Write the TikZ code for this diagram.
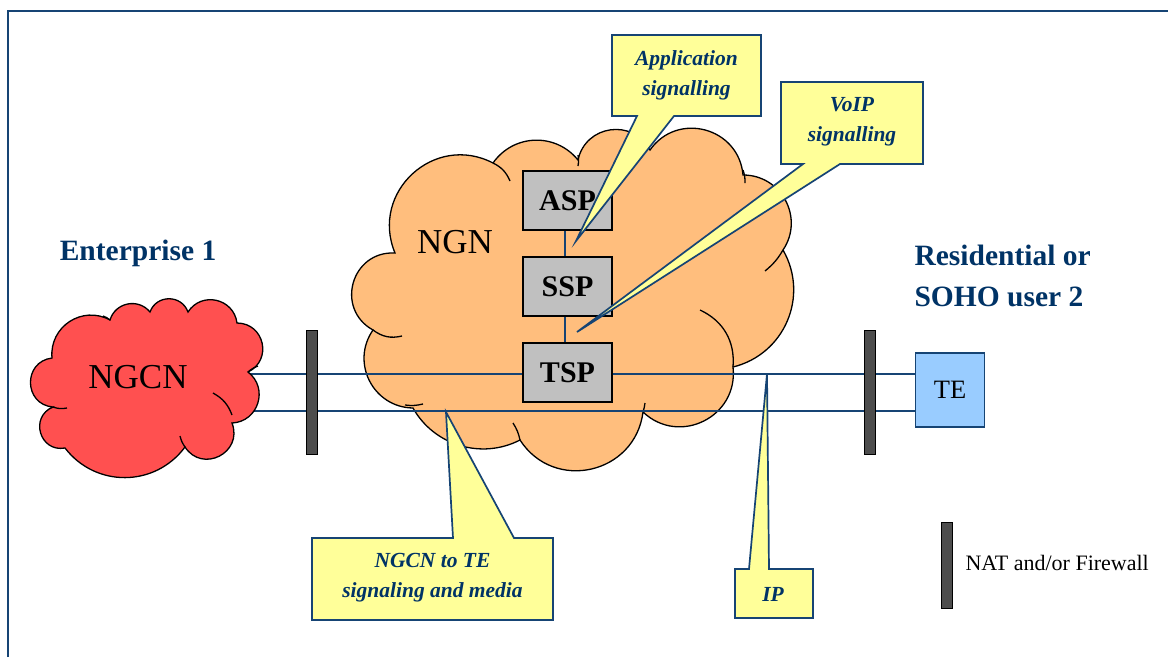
\documentclass[tikz,border=0pt]{standalone}
\usepackage{fontspec}
\setmainfont{Liberation Serif}
\definecolor{navy}{RGB}{0,51,102}
\definecolor{wire}{RGB}{22,68,116}
\definecolor{callfill}{RGB}{255,255,153}
\definecolor{ngnfill}{RGB}{255,190,125}
\definecolor{ngcnfill}{RGB}{255,80,80}
\definecolor{boxgray}{RGB}{192,192,192}
\definecolor{barfill}{RGB}{77,77,77}
\definecolor{tefill}{RGB}{153,204,255}
\begin{document}
\begin{tikzpicture}[x=1pt,y=-1pt,
  % circular-arc puffs; the number is the bulge as a fraction of the chord
  p20/.style={bend left=44,looseness=0.99},
  p25/.style={bend left=53,looseness=1.07},
  p30/.style={bend left=62,looseness=1.16},
  p35/.style={bend left=70,looseness=1.27},
  p40/.style={bend left=77,looseness=1.40},
  p45/.style={bend left=84,looseness=1.54},
  p50/.style={bend left=90,looseness=1.70},
  cloudline/.style={draw=black,line width=1.3pt,line join=miter},
  innerarc/.style={draw=black,line width=1.3pt},
  server/.style={draw=black,line width=1.6pt,fill=boxgray,minimum width=89pt,minimum height=59pt,inner sep=0pt,font=\bfseries\fontsize{30}{30}\selectfont},
  firewall/.style={draw=black,line width=1pt,fill=barfill,minimum width=11pt,minimum height=124pt,inner sep=0pt},
  wireline/.style={draw=wire,line width=1.9pt},
  terminal/.style={draw=wire,line width=1.6pt,fill=tefill,minimum width=69pt,minimum height=74pt,inner sep=0pt,font=\fontsize{26.5}{26.5}\selectfont},
  callout/.style={draw=wire,line width=1.7pt,fill=callfill,line join=miter},
  calltext/.style={text=navy,font=\bfseries\itshape\fontsize{21.5}{30}\selectfont,align=center},
  heading/.style={text=navy,font=\bfseries\fontsize{29.5}{41}\selectfont}]
\useasboundingbox (0,0) rectangle (1168,657);
\fill[white] (0,0) rectangle (1168,657);
% frame
\draw[wire,line width=2.6pt] (8,657) -- (8,11) -- (1168,11);

% NGN cloud
\path[cloudline,fill=ngnfill]
  (395,253) to[p35] (493,163) to[p25] (578,160) to[p35] (650,150)
  to[p35] (743,175) to[p30] (783,250) to[p25] (733,367)
  to[p35] (643,412) to[p35] (520,440) to[p20] (413,408)
  to[p30] (373,330) to[p40] (395,253) -- cycle;
\draw[innerarc] (373,330) to[bend right=25] (402,336);
\draw[innerarc] (493,163) to[bend left=20] (510,181);
\draw[innerarc] (578,155) to[bend left=10] (578,166);
\draw[innerarc] (743,170) to[bend left=10] (745,183);
\draw[innerarc] (783,250) to[bend left=10] (765,271);
\draw[innerarc] (700,310) to[bend left=35] (733,367);
\draw[innerarc] (645,403) to[bend left=5] (643,412);
\draw[innerarc] (513,423) to[bend left=10] (520,440);
\draw[innerarc] (405,405) to[bend right=10] (423,404);
\node[font=\fontsize{35}{35}\selectfont] (ngn) at (455,242) {NGN};

% signalling lines between the networks and the terminal
\coordinate (l1a) at (200,374);
\coordinate (l2a) at (200,411);
\node[terminal] (te) at (950,390) {TE};
\draw[wireline] (l1a) -- (te.west |- l1a);
\draw[wireline] (l2a) -- (te.west |- l2a);

% NGCN cloud
\path[cloudline,fill=ngcnfill]
  (52,358) to[p30] (110,320) to[p30] (150,312) to[p35] (188,312)
  to[p35] (237,323) to[p40] (248,372) to[p35] (232,423)
  to[p45] (185,447) to[p25] (65,448) to[p45] (53,407)
  to[p45] (52,358) -- cycle;
\draw[innerarc] (213,393) to[bend left=20] (232,415);
\draw[innerarc] (248,372) to[bend left=10] (258,366);
\draw[innerarc] (185,447) to[bend left=10] (180,436);
\draw[innerarc] (53,407) to[bend right=15] (67,408);
\draw[innerarc] (110,320) to[bend right=10] (103,316);
\node[font=\fontsize{35}{35}\selectfont] (ngcn) at (138,377) {NGCN};

% NAT / firewall bars
\node[firewall] (fw1) at (311.5,392.5) {};
\node[firewall] (fw2) at (869.5,392.5) {};

% service platforms
\node[server] (asp) at (567.5,200.5) {ASP};
\node[server] (ssp) at (567.5,286.5) {SSP};
\draw[wire,line width=1.6pt] ([xshift=-2.5pt]asp.south) -- ([xshift=-2.5pt]ssp.north);
\node[server] (tsp) at (567.5,372.5) {TSP};
\draw[wire,line width=1.6pt] ([xshift=-2.5pt]ssp.south) -- ([xshift=-2.5pt]tsp.north);

% headings
\node[heading] (ent) at (138,253) {Enterprise 1};
\node[heading,anchor=west,align=left] (res) at (911,276) {Residential or\\SOHO user 2};

% legend
\node[firewall,minimum height=86pt] (legbar) at (946.5,565) {};
\node[anchor=west,font=\fontsize{22}{22}\selectfont] (legtext) at (962,563) {NAT and/or Firewall};

% callouts
\coordinate (apptip) at (576,241);
\coordinate (voiptip) at (577,332);
\coordinate (ngcntip) at (446,412);
\coordinate (iptip) at (767,374);
\path[callout] (612,35) -- (761,35) -- (761,116) -- (674,116) -- (apptip) -- (637,116) -- (612,116) -- cycle;
\node[calltext] (app) at (686.5,75) {Application\\signalling};
\path[callout] (781,82) -- (923,82) -- (923,164) -- (840,164) -- (voiptip) -- (803,164) -- (781,164) -- cycle;
\node[calltext] (voip) at (852,122) {VoIP\\signalling};
\path[callout] (312,538) -- (453,538) -- (ngcntip) -- (514,538) -- (553,538) -- (553,620) -- (312,620) -- cycle;
\node[calltext] (media) at (432.5,578) {NGCN to TE\\signaling and media};
\path[callout] (735,569) -- (749,569) -- (iptip) -- (769,569) -- (813,569) -- (813,618) -- (735,618) -- cycle;
\node[calltext] (ip) at (773,594) {IP};
\end{tikzpicture}
\end{document}
